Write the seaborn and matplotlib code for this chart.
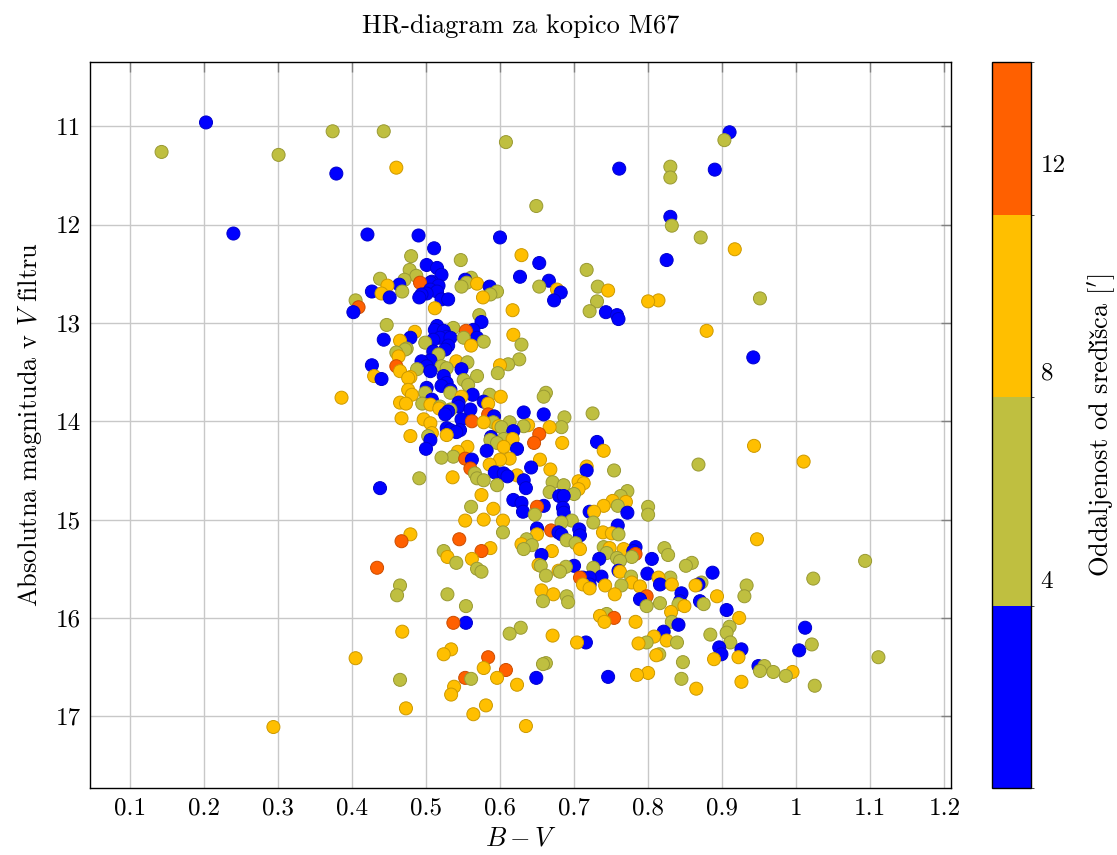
import numpy as np
import pandas as pd
import seaborn as sns
import matplotlib
matplotlib.use("Agg")
import matplotlib.pyplot as plt
from matplotlib.colors import ListedColormap, BoundaryNorm
from matplotlib.cm import ScalarMappable
from matplotlib.ticker import FuncFormatter, MultipleLocator

# odčitane zvezde, po barvnih razredih oddaljenosti od središča
blue_bv = [0.203, 0.379, 0.240, 0.421, 0.490, 0.511, 0.501, 0.464, 0.506, 0.427, 0.451, 0.491, 0.501, 0.402, 0.443, 0.479,
           0.600, 0.653, 0.515, 0.521, 0.508, 0.517, 0.506, 0.494, 0.515, 0.521, 0.530, 0.553, 0.586, 0.627, 0.666, 0.682,
           0.673, 0.743, 0.758, 0.760, 0.575, 0.515, 0.512, 0.524, 0.528, 0.519, 0.510, 0.533, 0.564, 0.569, 0.530, 0.510,
           0.526, 0.494, 0.506, 0.501, 0.506, 0.548, 0.524, 0.528, 0.521, 0.533, 0.501, 0.508, 0.563, 0.544, 0.544, 0.560,
           0.526, 0.530, 0.578, 0.632, 0.659, 0.592, 0.618, 0.623, 0.731, 0.717, 0.642, 0.562, 0.588, 0.582, 0.541, 0.546,
           0.533, 0.528, 0.548, 0.506, 0.500, 0.593, 0.605, 0.610, 0.632, 0.635, 0.680, 0.686, 0.618, 0.629, 0.631, 0.659,
           0.685, 0.686, 0.721, 0.772, 0.650, 0.679, 0.683, 0.707, 0.708, 0.759, 0.656, 0.783, 0.780, 0.734, 0.700, 0.712,
           0.721, 0.721, 0.737, 0.760, 0.799, 0.805, 0.816, 0.789, 0.843, 0.841, 0.845, 0.821, 0.716, 0.746, 0.649, 0.554,
           0.868, 0.870, 0.887, 0.906, 0.896, 0.899, 0.926, 0.949, 1.012, 1.004, 0.910, 0.761, 0.890, 0.830, 0.825, 0.942,
           0.427, 0.440, 0.438]
blue_mag = [10.96, 11.48, 12.09, 12.10, 12.11, 12.24, 12.41, 12.61, 12.59, 12.68, 12.74, 12.74, 12.70, 12.89, 13.17, 13.15,
            12.13, 12.39, 12.44, 12.51, 12.58, 12.62, 12.66, 12.71, 12.68, 12.76, 12.76, 12.56, 12.63, 12.53, 12.57, 12.69,
            12.77, 12.89, 12.92, 12.96, 12.99, 13.03, 13.07, 13.08, 13.14, 13.15, 13.17, 13.15, 13.07, 13.15, 13.23, 13.29,
            13.27, 13.39, 13.38, 13.44, 13.49, 13.47, 13.54, 13.61, 13.64, 13.68, 13.66, 13.78, 13.73, 13.81, 13.85, 13.88,
            13.93, 13.90, 13.80, 13.91, 13.93, 13.95, 14.10, 14.28, 14.21, 14.50, 14.47, 14.39, 14.16, 14.30, 14.11, 14.09,
            14.09, 14.07, 13.98, 14.19, 14.28, 14.52, 14.53, 14.56, 14.60, 14.68, 14.76, 14.76, 14.80, 14.83, 14.92, 14.86,
            14.88, 14.93, 14.92, 14.93, 15.09, 15.13, 15.15, 15.10, 15.16, 15.06, 15.36, 15.28, 15.32, 15.40, 15.47, 15.59,
            15.59, 15.66, 15.58, 15.52, 15.55, 15.40, 15.66, 15.81, 15.83, 16.07, 15.75, 16.14, 16.25, 16.60, 16.61, 16.05,
            15.66, 15.83, 15.54, 15.92, 16.30, 16.37, 16.32, 16.49, 16.10, 16.33, 11.06, 11.43, 11.44, 11.92, 12.36, 13.35,
            13.43, 13.57, 14.68]

olive_bv = [0.143, 0.301, 0.374, 0.443, 0.480, 0.478, 0.487, 0.471, 0.438, 0.468, 0.405, 0.447, 0.499, 0.547, 0.717, 0.548,
            0.555, 0.561, 0.587, 0.596, 0.653, 0.732, 0.731, 0.721, 0.572, 0.537, 0.551, 0.578, 0.474, 0.517, 0.629, 0.597,
            0.611, 0.626, 0.488, 0.521, 0.528, 0.556, 0.569, 0.551, 0.557, 0.499, 0.586, 0.533, 0.519, 0.533, 0.495, 0.659,
            0.662, 0.687, 0.725, 0.591, 0.602, 0.613, 0.632, 0.683, 0.754, 0.521, 0.537, 0.566, 0.596, 0.605, 0.587, 0.503,
            0.491, 0.569, 0.578, 0.596, 0.671, 0.686, 0.667, 0.700, 0.772, 0.763, 0.759, 0.647, 0.561, 0.800, 0.800, 0.604,
            0.683, 0.697, 0.726, 0.760, 0.636, 0.643, 0.632, 0.690, 0.702, 0.740, 0.744, 0.758, 0.762, 0.778, 0.726, 0.681,
            0.689, 0.655, 0.662, 0.764, 0.777, 0.830, 0.816, 0.798, 0.841, 0.832, 0.798, 0.839, 0.815, 0.847, 0.845, 0.744,
            0.613, 0.628, 0.662, 0.658, 0.690, 0.692, 0.658, 0.554, 0.529, 0.561, 0.465, 0.461, 0.465, 0.524, 0.541, 0.575,
            0.569, 0.868, 0.822, 0.827, 0.851, 0.859, 0.872, 0.875, 1.093, 1.023, 0.933, 0.930, 0.884, 0.910, 0.906, 0.911,
            0.957, 0.951, 0.969, 0.986, 1.025, 1.021, 1.111, 0.903, 0.830, 0.830, 0.832, 0.871, 0.951, 0.460, 0.472, 0.608,
            0.649]
olive_mag = [11.26, 11.29, 11.05, 11.05, 12.32, 12.46, 12.52, 12.56, 12.55, 12.68, 12.77, 13.02, 13.20, 12.36, 12.46, 12.63,
             12.59, 12.54, 12.71, 12.68, 12.63, 12.63, 12.78, 12.88, 12.92, 13.05, 13.15, 13.19, 13.26, 13.32, 13.22, 13.51,
             13.42, 13.37, 13.47, 13.44, 13.46, 13.40, 13.54, 13.58, 13.63, 13.71, 13.73, 13.71, 13.85, 13.88, 13.82, 13.75,
             13.71, 13.96, 13.92, 14.01, 14.06, 14.01, 14.05, 14.06, 14.50, 14.37, 14.36, 14.53, 14.22, 14.18, 14.19, 14.15,
             14.58, 14.58, 14.60, 14.65, 14.62, 14.65, 14.72, 14.74, 14.71, 14.76, 14.86, 14.95, 14.87, 14.87, 14.95, 15.13,
             15.03, 15.01, 15.03, 15.15, 15.20, 15.26, 15.30, 15.21, 15.24, 15.28, 15.34, 15.39, 15.42, 15.38, 15.49, 15.53,
             15.48, 15.47, 15.57, 15.67, 15.58, 15.59, 15.85, 15.88, 15.86, 16.04, 16.25, 16.25, 16.37, 16.45, 16.62, 15.96,
             16.16, 16.10, 16.46, 16.47, 15.78, 15.84, 15.83, 15.88, 15.76, 16.62, 16.63, 15.77, 15.67, 15.32, 15.44, 15.53,
             15.50, 14.44, 15.29, 15.36, 15.47, 15.44, 15.64, 15.86, 15.42, 15.60, 15.67, 15.78, 16.17, 16.09, 16.15, 16.25,
             16.49, 16.54, 16.55, 16.59, 16.69, 16.27, 16.40, 11.14, 11.41, 11.52, 12.01, 12.13, 12.75, 13.30, 13.27, 11.16,
             11.81]

orange_bv = [0.460, 0.448, 0.440, 0.512, 0.465, 0.485, 0.629, 0.569, 0.577, 0.617, 0.677, 0.746, 0.561, 0.618, 0.600, 0.479,
             0.465, 0.541, 0.481, 0.473, 0.465, 0.506, 0.601, 0.548, 0.584, 0.518, 0.467, 0.578, 0.598, 0.638, 0.667, 0.617,
             0.684, 0.740, 0.717, 0.668, 0.654, 0.543, 0.556, 0.586, 0.600, 0.613, 0.605, 0.528, 0.508, 0.497, 0.506, 0.479,
             0.536, 0.623, 0.575, 0.706, 0.706, 0.713, 0.752, 0.770, 0.740, 0.591, 0.727, 0.553, 0.578, 0.604, 0.650, 0.739,
             0.751, 0.629, 0.670, 0.708, 0.748, 0.767, 0.679, 0.652, 0.712, 0.721, 0.742, 0.755, 0.778, 0.789, 0.762, 0.814,
             0.832, 0.831, 0.849, 0.808, 0.825, 0.787, 0.811, 0.865, 0.783, 0.741, 0.735, 0.704, 0.671, 0.785, 0.800, 0.656,
             0.672, 0.578, 0.596, 0.538, 0.534, 0.623, 0.581, 0.564, 0.635, 0.473, 0.479, 0.529, 0.562, 0.587, 0.468, 0.524,
             0.534, 0.864, 0.943, 1.010, 0.947, 0.893, 0.923, 0.889, 0.922, 0.926, 0.995, 0.917, 0.800, 0.814, 0.879, 0.430,
             0.463, 0.386, 0.476, 0.476, 0.405, 0.294]
orange_mag = [11.42, 12.62, 12.70, 12.85, 13.18, 13.09, 12.31, 12.60, 12.74, 12.87, 12.66, 12.67, 13.23, 13.12, 13.43, 13.55,
              13.49, 13.39, 13.73, 13.82, 13.81, 13.83, 13.75, 13.75, 13.82, 13.87, 13.97, 14.01, 14.05, 14.04, 14.06, 14.18,
              14.22, 14.30, 14.46, 14.49, 14.39, 14.31, 14.26, 14.44, 14.39, 14.38, 14.26, 14.14, 14.12, 13.98, 14.02, 14.15,
              14.57, 14.55, 14.75, 14.61, 14.69, 14.63, 14.81, 14.82, 14.86, 14.89, 14.92, 15.01, 15.00, 15.01, 15.15, 15.13,
              15.14, 15.25, 15.32, 15.30, 15.29, 15.30, 15.52, 15.46, 15.66, 15.70, 15.67, 15.76, 15.64, 15.68, 15.53, 15.59,
              15.66, 15.94, 15.88, 16.19, 16.23, 16.26, 16.38, 16.72, 16.04, 16.04, 15.98, 16.25, 16.18, 16.58, 16.56, 15.72,
              15.76, 16.51, 16.61, 16.70, 16.78, 16.68, 16.89, 16.98, 17.10, 16.92, 15.15, 15.38, 15.40, 15.29, 16.14, 16.37,
              16.32, 15.67, 14.25, 14.41, 15.20, 15.78, 16.00, 16.42, 16.40, 16.65, 16.55, 12.25, 12.78, 12.77, 13.08, 13.54,
              13.34, 13.76, 13.56, 13.68, 16.41, 17.11]

red_bv = [0.492, 0.409, 0.554, 0.584, 0.562, 0.653, 0.646, 0.553, 0.560, 0.650, 0.669, 0.783, 0.708, 0.798, 0.754, 0.537,
          0.584, 0.608, 0.553, 0.467, 0.545, 0.575, 0.460, 0.434]
red_mag = [12.59, 12.84, 13.08, 13.93, 14.00, 14.13, 14.22, 14.38, 14.48, 14.87, 15.11, 15.35, 15.59, 15.78, 16.00, 16.05,
           16.40, 16.53, 16.61, 15.22, 15.20, 15.32, 13.44, 15.49]

# oddaljenost od središča [arcmin], sredina vsakega razreda
class_dist = {"blue": 1.75, "olive": 5.5, "orange": 9.25, "red": 12.5}
class_colors = ["#0000ff", "#bfbf40", "#ffbf00", "#ff6000"]
dist_bounds = [0, 3.5, 7.5, 11, 13.94]
cbar_ticks = [4, 8, 12]

frames = []
for name, bv, mag in [("blue", blue_bv, blue_mag), ("olive", olive_bv, olive_mag),
                      ("orange", orange_bv, orange_mag), ("red", red_bv, red_mag)]:
    frames.append(pd.DataFrame({"bv": bv, "mag": mag, "dist": class_dist[name]}))
df = pd.concat(frames, ignore_index=True).sort_values("mag", kind="stable")

sns.set_style("white")
plt.rcParams["font.family"] = ["cmr10", "DejaVu Serif"]
plt.rcParams["mathtext.fontset"] = "cm"
plt.rcParams["axes.formatter.use_mathtext"] = True
plt.rcParams["axes.unicode_minus"] = False
plt.rcParams["text.color"] = "black"
plt.rcParams["axes.labelcolor"] = "black"

cmap = ListedColormap(class_colors)
norm = BoundaryNorm(dist_bounds, cmap.N)

fig = plt.figure(figsize=(11.17, 8.55), dpi=100)
ax = fig.add_axes([0.081, 0.0784, 0.7704, 0.8491])
cax = fig.add_axes([0.8883, 0.0784, 0.0347, 0.8491])

sns.scatterplot(data=df, x="bv", y="mag", hue="dist", palette=cmap, hue_norm=norm,
                s=88, linewidth=0.7, legend=False, ax=ax, zorder=3)
pts = ax.collections[0]
ec = pts.get_facecolors().copy()
ec[:, :3] *= 0.8
pts.set_edgecolors(ec)

ax.set_xlim(0.047, 1.209)
ax.set_ylim(17.73, 10.345)
ax.xaxis.set_major_locator(MultipleLocator(0.1))
ax.yaxis.set_major_locator(MultipleLocator(1))
ax.xaxis.set_major_formatter(FuncFormatter(lambda v, p: f"{v:g}"))
ax.yaxis.set_major_formatter(FuncFormatter(lambda v, p: f"{v:g}"))
ax.grid(True, color="#c8c8c8", lw=1.0)
ax.set_axisbelow(True)
ax.tick_params(direction="in", length=7, width=1, color="#808080", top=True, right=True,
               labelsize=18, labelcolor="black", pad=7)
for sp in ax.spines.values():
    sp.set_color("black")
    sp.set_linewidth(1.0)

ax.set_xlabel(r"$B - V$", fontsize=19, labelpad=5)
ax.set_ylabel(r"Absolutna magnituda v $V$ filtru", fontsize=19, labelpad=8)
ax.set_title("HR-diagram za kopico M67", fontsize=19, pad=21, color="black")

cb = fig.colorbar(ScalarMappable(norm=norm, cmap=cmap), cax=cax, spacing="proportional",
                  ticks=cbar_ticks)
cb.outline.set_edgecolor("black")
cb.outline.set_linewidth(1.0)
cax.tick_params(direction="in", length=9, width=1, color="#808080", left=True, right=True,
                labelsize=18, labelcolor="black", pad=7)
cax.yaxis.set_major_formatter(FuncFormatter(lambda v, p: f"{v:g}"))
cb.set_label(r"Oddaljenost od sredi$\mathrm{\check{s}\check{c}}$a [$'$]", fontsize=19, labelpad=14)

fig.savefig("out.png", dpi=100)
